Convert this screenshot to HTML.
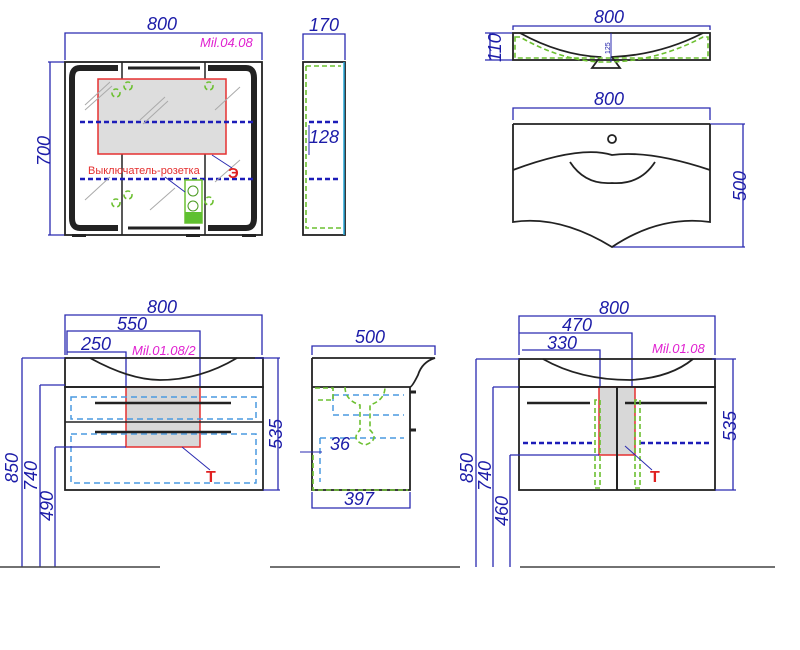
<!DOCTYPE html>
<html><head><meta charset="utf-8"><style>
html,body{margin:0;padding:0;background:#fff;width:800px;height:650px;overflow:hidden}
text{font-family:"Liberation Sans",sans-serif;font-style:italic;fill:#1c1ca8;font-size:18px}
.d{stroke:#2a2ab0;stroke-width:1.3;fill:none}
.k{stroke:#222;stroke-width:1.8;fill:none}
.bd{stroke:#1c1cb8;stroke-width:2.4;stroke-dasharray:5,3;fill:none}
.lb{stroke:#4a9ae0;stroke-width:1.5;stroke-dasharray:6,4;fill:none}
.g{stroke:#6cc030;stroke-width:1.6;stroke-dasharray:5,3;fill:none}
</style></head><body>
<svg width="800" height="650" viewBox="0 0 800 650" xmlns="http://www.w3.org/2000/svg">
<!-- Mirror cabinet front -->
<path class="d" d="M65 60V33H262V60M48 62H65M48 235H65M50 62V235"/>
<text x="147" y="30">800</text>
<text x="200" y="47" style="fill:#e020d0;font-size:13px">Mil.04.08</text>
<text transform="translate(50,166) rotate(-90)">700</text>
<rect x="65" y="62" width="197" height="173" class="k"/>
<path d="M118 68H80Q72 68 72 78V218Q72 228 80 228H118" stroke="#222" stroke-width="6" fill="none"/>
<path d="M208 68H246Q254 68 254 78V218Q254 228 246 228H208" stroke="#222" stroke-width="6" fill="none"/>
<path d="M128 68H200M128 228H200" stroke="#222" stroke-width="3"/>
<path d="M122 62V235M205 62V235" stroke="#222" stroke-width="1.5"/>
<rect x="98" y="79" width="128" height="75" fill="#ddd" stroke="#e53030" stroke-width="1.5"/>
<path class="bd" d="M80 122H255M80 179H255"/>
<path d="M85 105L110 82M85 110L112 86M140 120L165 97M143 124L168 101M215 110L240 87M85 200L110 177M150 210L175 188M215 182L240 160" stroke="#aaa" stroke-width="1"/>
<circle cx="116" cy="93" r="4" class="g"/><circle cx="128" cy="86" r="4" class="g"/><circle cx="209" cy="86" r="4" class="g"/>
<circle cx="116" cy="203" r="4" class="g"/><circle cx="128" cy="195" r="4" class="g"/><circle cx="209" cy="201" r="4" class="g"/>
<rect x="185" y="180" width="17" height="43" fill="#fff" stroke="#6cc030" stroke-width="1.5"/>
<rect x="185" y="212" width="17" height="11" fill="#5fc030"/>
<circle cx="193" cy="191" r="5" fill="none" stroke="#4a9a20"/><circle cx="193" cy="206" r="5" fill="none" stroke="#4a9a20"/>
<path d="M165 177L185 192M212 155L232 168" stroke="#2a2ab0" stroke-width="1"/>
<text x="88" y="174" style="fill:#e53030;font-style:normal;font-size:11px">Выключатель-розетка</text>
<text x="228" y="178" style="fill:#e02020;font-style:normal;font-weight:bold;font-size:15px">Э</text>
<rect x="72" y="234" width="14" height="3" fill="#222"/><rect x="186" y="234" width="14" height="3" fill="#222"/><rect x="242" y="234" width="14" height="3" fill="#222"/>
<!-- side -->
<path class="d" d="M303 60V34H345V60"/>
<text x="309" y="31">170</text>
<rect x="303" y="62" width="42" height="173" class="k"/>
<path d="M344 62V235" stroke="#29a8d8" stroke-width="1.5"/>
<path class="g" d="M306 66V228H341M306 66H341"/>
<path class="bd" d="M309 122H340M309 179H340"/>
<path d="M309 125V155" stroke="#2a2ab0"/>
<text x="309" y="143">128</text>
<!-- basin section top right -->
<path class="d" d="M513 30V26H710V30M485 33H513M485 60H513M490 33V60"/>
<text x="594" y="23">800</text>
<text transform="translate(501,62) rotate(-90)">110</text>
<rect x="513" y="33" width="197" height="27" class="k"/>
<path class="k" d="M520 33Q560 55 600 57L592 68H620L612 57Q660 55 703 33"/>
<path class="g" d="M515 37H520Q560 60 600 62H612Q660 60 703 37H708V58H515Z"/>
<path d="M611 33V62" stroke="#2a2ab0"/>
<text x="600" y="52" style="font-size:7px;font-style:normal" transform="rotate(-90 606 48)">125</text>
<!-- plan view -->
<path class="d" d="M513 120V108H710V120M710 124H745M612 247H745M743 124V247"/>
<text x="594" y="105">800</text>
<text transform="translate(746,201) rotate(-90)">500</text>
<path class="k" d="M513 124H710M513 124V222Q560 215 612 247Q660 215 710 222V124"/>
<path class="k" d="M513 170Q580 145 612 155Q650 150 710 170"/>
<path class="k" d="M570 162Q585 185 612 183Q640 185 655 162"/>
<circle cx="612" cy="139" r="4" class="k"/>
<!-- bottom left vanity -->
<path class="d" d="M65 355V315H262V355M67 355V331H200V387M67 352H126V387"/>
<text x="147" y="313">800</text><text x="117" y="330">550</text><text x="81" y="350">250</text>
<text x="132" y="355" style="fill:#e020d0;font-size:13px">Mil.01.08/2</text>
<rect x="65" y="358" width="198" height="29" class="k"/>
<path class="k" d="M90 358Q130 380 160 380Q200 380 237 358"/>
<rect x="126" y="387" width="74" height="60" fill="#d8d8d8" stroke="#e53030" stroke-width="1.5"/>
<rect x="65" y="387" width="198" height="103" class="k"/>
<path d="M65 422H263" stroke="#222" stroke-width="1.5"/>
<rect x="71" y="397" width="185" height="22" class="lb"/>
<rect x="71" y="434" width="185" height="49" class="lb"/>
<path d="M95 403H231M95 432H231" stroke="#222" stroke-width="2.5"/>
<path d="M182 447L210 470" stroke="#2a2ab0"/>
<text x="206" y="482" style="fill:#e02020;font-style:normal;font-weight:bold;font-size:16px">T</text>
<path class="d" d="M22 358H65M40 385H65M55 447H126M22 358V567M40 385V567M55 447V567M255 358H280M263 490H280M278 358V490"/>
<text transform="translate(18,483) rotate(-90)">850</text>
<text transform="translate(37,491) rotate(-90)">740</text>
<text transform="translate(53,521) rotate(-90)">490</text>
<text transform="translate(282,449) rotate(-90)">535</text>
<path d="M0 567H160M270 567H460M520 567H775" stroke="#444" stroke-width="1.5"/>
<!-- middle side -->
<path class="d" d="M312 355V346H435V355M312 492V508H410V492"/>
<text x="355" y="343">500</text><text x="344" y="505">397</text>
<path class="k" d="M312 358H435Q422 362 418 375Q412 387 410 387V490H312V358M312 387H410"/>
<path d="M410 392H416M410 430H416" stroke="#222" stroke-width="3"/>
<path class="lb" d="M333 395H404M333 395V415H404M320 438H404M320 438V482"/>
<path class="g" d="M345 387Q345 400 360 405V430Q350 440 365 445Q380 440 370 430V405Q385 400 385 387M315 388H333V400H315M313 455V490H408"/>
<path d="M300 452H322" stroke="#2a2ab0"/>
<text x="330" y="450">36</text>
<!-- bottom right vanity -->
<path class="d" d="M519 355V316H715V355M519 355V333H632V387M522 350H600V387"/>
<text x="599" y="314">800</text><text x="562" y="331">470</text><text x="547" y="349">330</text>
<text x="652" y="353" style="fill:#e020d0;font-size:13px">Mil.01.08</text>
<rect x="519" y="359" width="196" height="28" class="k"/>
<path class="k" d="M543 359Q580 380 630 380Q670 378 693 359"/>
<rect x="599" y="387" width="36" height="68" fill="#d8d8d8" stroke="#e53030" stroke-width="1.5"/>
<rect x="519" y="387" width="196" height="103" class="k"/>
<path d="M617 387V490" stroke="#222" stroke-width="2"/>
<path d="M527 403H590M625 403H707" stroke="#222" stroke-width="2.5"/>
<path class="bd" d="M523 443H595M640 443H712"/>
<path class="g" d="M595 400V488H600V400ZM635 400V488H640V400Z"/>
<path d="M625 446L652 470" stroke="#2a2ab0"/>
<text x="650" y="482" style="fill:#e02020;font-style:normal;font-weight:bold;font-size:16px">T</text>
<path class="d" d="M476 359H519M493 387H519M510 455H599M476 359V567M493 387V567M510 455V567M712 359H736M715 490H736M733 359V490"/>
<text transform="translate(473,483) rotate(-90)">850</text>
<text transform="translate(491,491) rotate(-90)">740</text>
<text transform="translate(508,526) rotate(-90)">460</text>
<text transform="translate(736,441) rotate(-90)">535</text>
</svg>
</body></html>
